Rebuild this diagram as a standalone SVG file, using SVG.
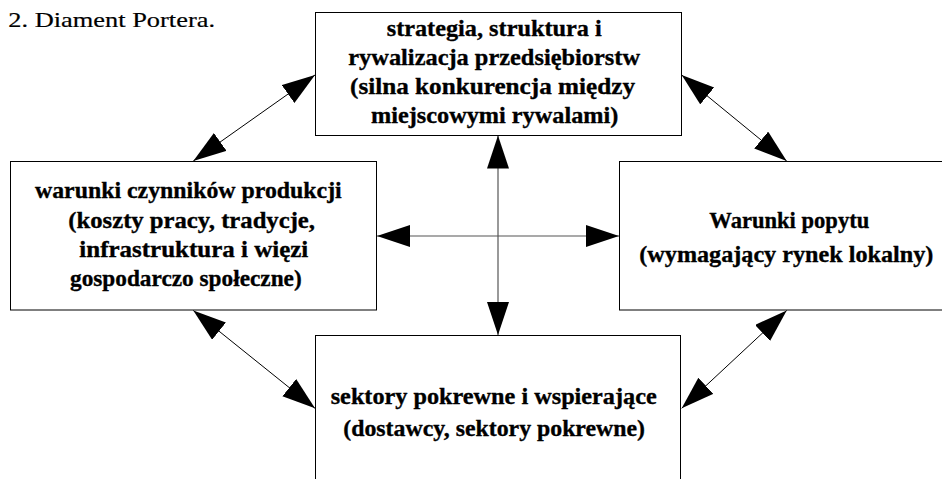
<svg xmlns="http://www.w3.org/2000/svg" width="942" height="479" viewBox="0 0 942 479">
<style>
.box{fill:#fff;stroke:#000;stroke-width:1}
.d{stroke:#000;stroke-width:1;fill:none;marker-start:url(#ah);marker-end:url(#ah)}
.c{stroke:#555;stroke-width:1.2;fill:none;marker-start:url(#ah);marker-end:url(#ah)}
</style>
<defs>
<marker id="ah" markerUnits="userSpaceOnUse" markerWidth="34" markerHeight="23" refX="33" refY="11" orient="auto-start-reverse" viewBox="0 0 34 23">
<path d="M0,0 L33,11 L0,22 z" fill="#000"/>
</marker>
</defs>
<rect width="942" height="479" fill="#fff"/>
<text x="8.3" y="27.3" font-family="Liberation Serif" font-size="22" fill="#000" stroke="#000" stroke-width="0.2" textLength="206.7" lengthAdjust="spacingAndGlyphs">2. Diament Portera.</text>
<g id="connectors">
<line class="d" x1="193.3" y1="161" x2="315" y2="75"/>
<line class="d" x1="681.7" y1="75" x2="786.7" y2="161"/>
<line class="d" x1="193.3" y1="310.5" x2="315" y2="408.3"/>
<line class="d" x1="786.7" y1="310.5" x2="681.7" y2="408.3"/>
<line class="c" x1="498" y1="135.5" x2="498" y2="335"/>
<line class="c" x1="377" y1="236" x2="619" y2="236"/>
</g>
<g id="strategia">
<rect class="box" x="315.5" y="12.5" width="366" height="123"/>
<g font-family="Liberation Serif" font-weight="bold" font-size="24" fill="#000" stroke="#000" stroke-width="0.35">
<text x="386.7" y="36" textLength="215" lengthAdjust="spacingAndGlyphs">strategia, struktura i</text>
<text x="348.3" y="65" textLength="291.7" lengthAdjust="spacingAndGlyphs">rywalizacja przedsiębiorstw</text>
<text x="350" y="94" textLength="285" lengthAdjust="spacingAndGlyphs">(silna konkurencja między</text>
<text x="371" y="123.3" textLength="247.3" lengthAdjust="spacingAndGlyphs">miejscowymi rywalami)</text>
</g>
</g>
<g id="czynniki">
<rect class="box" x="10.5" y="161.5" width="366" height="148.5"/>
<g font-family="Liberation Serif" font-weight="bold" font-size="24" fill="#000" stroke="#000" stroke-width="0.35">
<text x="35" y="198.3" textLength="306.7" lengthAdjust="spacingAndGlyphs">warunki czynników produkcji</text>
<text x="68.3" y="228.3" textLength="246.7" lengthAdjust="spacingAndGlyphs">(koszty pracy, tradycje,</text>
<text x="79.3" y="256.7" textLength="229" lengthAdjust="spacingAndGlyphs">infrastruktura i więzi</text>
<text x="70" y="286" textLength="231.7" lengthAdjust="spacingAndGlyphs">gospodarczo społeczne)</text>
</g>
</g>
<g id="popyt">
<rect class="box" x="619.5" y="161.5" width="340" height="148.5"/>
<g font-family="Liberation Serif" font-weight="bold" font-size="24" fill="#000" stroke="#000" stroke-width="0.35">
<text x="709.3" y="228.3" textLength="160" lengthAdjust="spacingAndGlyphs">Warunki popytu</text>
<text x="639.3" y="261.7" textLength="294" lengthAdjust="spacingAndGlyphs">(wymagający rynek lokalny)</text>
</g>
</g>
<g id="sektory">
<rect class="box" x="315.5" y="335.5" width="365" height="200"/>
<g font-family="Liberation Serif" font-weight="bold" font-size="24" fill="#000" stroke="#000" stroke-width="0.35">
<text x="330.7" y="404" textLength="326" lengthAdjust="spacingAndGlyphs">sektory pokrewne i wspierające</text>
<text x="343.3" y="436" textLength="301.7" lengthAdjust="spacingAndGlyphs">(dostawcy, sektory pokrewne)</text>
</g>
</g>
</svg>
